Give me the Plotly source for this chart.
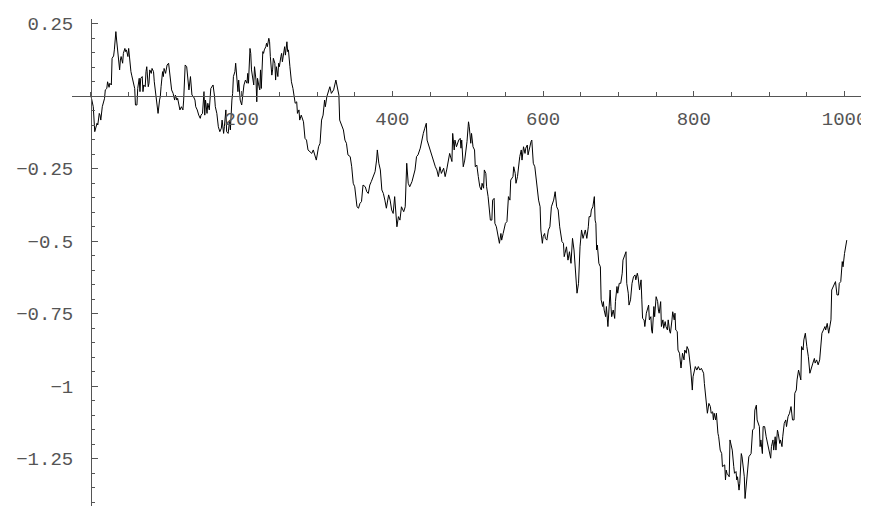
import plotly.graph_objects as go

# Random-walk samples: (step, value)
walk_a = [
    (0, 0.0), (2, -0.031), (3, -0.037), (5, -0.123), (8, -0.094), (9, -0.1), (11, -0.06), (12, -0.066),
    (13, -0.083), (15, -0.037), (16, -0.025), (18, -0.008), (19, 0.021), (21, 0.026), (22, 0.049),
    (24, 0.03), (25, 0.044), (27, 0.038), (28, 0.13), (30, 0.138), (31, 0.159), (33, 0.222), (34, 0.193),
    (35, 0.159), (36, 0.13), (38, 0.09), (39, 0.124), (40, 0.136), (42, 0.113), (43, 0.147), (45, 0.164),
    (46, 0.153), (47, 0.159), (49, 0.136), (50, 0.164), (51, 0.13), (53, 0.084), (54, 0.072), (56, 0.044),
    (58, 0.026), (59, -0.031), (61, -0.031), (62, 0.026), (64, 0.061), (65, 0.015), (66, 0.061),
    (68, 0.067), (69, 0.015), (70, 0.038), (72, 0.032), (73, 0.084), (74, 0.101), (76, 0.032), (77, 0.044),
    (78, 0.09), (80, 0.078), (81, 0.095), (83, 0.084), (84, 0.049), (85, 0.026), (87, -0.002), (88, -0.037),
    (89, -0.06), (91, -0.014), (92, -0.002), (93, 0.032), (95, 0.084), (96, 0.067), (97, 0.095), (99, 0.078),
    (100, 0.101), (101, 0.107), (103, 0.113), (105, 0.055), (107, 0.021), (109, 0.009), (111, -0.014),
    (112, 0.003), (114, -0.014), (115, -0.008), (116, -0.025), (118, -0.048), (120, -0.037), (122, -0.048),
    (123, -0.014), (125, 0.107), (127, 0.101), (129, 0.049), (130, 0.021), (132, 0.067), (134, 0.003),
    (136, -0.002), (138, -0.014), (139, -0.037), (141, -0.048), (143, -0.066), (145, -0.077), (146, -0.066),
    (148, -0.06), (150, 0.015), (151, -0.066), (152, -0.014), (154, -0.06), (155, -0.025), (157, -0.048),
    (159, 0.026), (161, 0.032), (162, 0.038), (164, -0.002), (165, -0.037), (167, -0.06), (169, -0.106),
    (171, -0.123), (173, -0.111), (174, -0.083), (176, -0.129), (177, -0.106), (179, -0.048), (180, -0.123),
    (182, -0.129), (184, -0.083), (185, -0.117), (187, -0.014), (188, 0.009), (189, 0.067), (191, 0.084),
    (192, 0.113), (193, 0.067), (195, 0.015), (196, 0.055), (198, -0.014), (200, -0.031), (201, -0.002),
    (202, 0.009), (203, 0.038), (205, 0.055), (207, 0.044), (208, 0.078), (209, 0.044), (211, 0.164),
    (212, 0.147), (213, 0.09), (215, 0.044), (216, 0.038), (217, 0.101), (219, 0.055), (220, -0.02),
    (221, 0.061), (223, 0.032), (224, 0.021), (225, 0.09), (226, 0.026), (228, 0.153), (229, 0.147),
    (230, 0.159), (232, 0.17), (233, 0.182), (234, 0.17), (236, 0.199), (237, 0.187), (238, 0.136),
    (240, 0.072), (241, 0.09), (242, 0.13), (244, 0.113), (245, 0.055), (246, 0.101), (248, 0.067),
    (249, 0.113), (250, 0.101), (252, 0.136), (253, 0.147), (254, 0.118), (256, 0.159), (257, 0.17),
    (258, 0.141), (260, 0.187), (261, 0.153), (262, 0.159), (264, 0.101), (265, 0.067), (266, 0.049),
    (268, 0.026), (269, 0.003),
]

walk_b = [
    (271, -0.025), (273, -0.02), (274, -0.06), (276, -0.048), (277, -0.083), (279, -0.066), (282, -0.089),
    (284, -0.146), (286, -0.152), (288, -0.186), (291, -0.192), (293, -0.198), (295, -0.186), (297, -0.209),
    (299, -0.221), (302, -0.175), (304, -0.163), (306, -0.083), (308, -0.066), (310, -0.014), (311, -0.037),
    (313, -0.002), (315, 0.015), (317, 0.032), (319, 0.009), (322, 0.021), (325, 0.055), (327, 0.021),
    (329, 0.003), (330, -0.083), (333, -0.1), (335, -0.117), (337, -0.152), (339, -0.163), (341, -0.203),
    (344, -0.209), (346, -0.244), (348, -0.301), (350, -0.313), (353, -0.382), (355, -0.387), (357, -0.37),
    (359, -0.364), (361, -0.307), (364, -0.313), (366, -0.33), (368, -0.336), (370, -0.307), (372, -0.295),
    (375, -0.278), (377, -0.261), (379, -0.221), (380, -0.186), (382, -0.232), (384, -0.255), (386, -0.324),
    (388, -0.336), (390, -0.359), (392, -0.387), (395, -0.341), (397, -0.359), (399, -0.393), (401, -0.405),
    (403, -0.347), (406, -0.451), (408, -0.416), (410, -0.428), (412, -0.382), (415, -0.399), (417, -0.382),
    (418, -0.324), (419, -0.232), (421, -0.301), (423, -0.313), (426, -0.295), (428, -0.272), (430, -0.255),
    (432, -0.209), (434, -0.203), (437, -0.18), (439, -0.152), (441, -0.129), (443, -0.111), (445, -0.094),
    (446, -0.152), (448, -0.169), (450, -0.186), (452, -0.209), (454, -0.221), (457, -0.244), (459, -0.255),
    (461, -0.278), (463, -0.244), (465, -0.267), (468, -0.249), (470, -0.278), (472, -0.255), (474, -0.232),
]

walk_c = [
    (476, -0.198), (479, -0.226), (480, -0.129), (482, -0.186), (483, -0.152), (485, -0.175), (488, -0.152),
    (490, -0.146), (491, -0.18), (492, -0.152), (494, -0.244), (496, -0.221), (499, -0.157), (501, -0.089),
    (502, -0.106), (504, -0.163), (505, -0.129), (507, -0.175), (509, -0.186), (510, -0.244), (512, -0.238),
    (514, -0.278), (516, -0.313), (518, -0.324), (519, -0.301), (521, -0.318), (522, -0.255), (524, -0.267),
    (525, -0.313), (527, -0.347), (530, -0.428), (532, -0.428), (533, -0.359), (535, -0.353), (536, -0.439),
    (538, -0.451), (541, -0.485), (542, -0.508), (544, -0.474), (545, -0.497), (547, -0.474), (550, -0.439),
    (552, -0.433), (554, -0.347), (556, -0.359), (557, -0.29), (560, -0.278), (561, -0.244), (563, -0.267),
    (564, -0.301), (566, -0.278), (567, -0.244), (569, -0.209), (571, -0.186), (572, -0.221), (574, -0.175),
    (576, -0.198), (577, -0.18), (579, -0.169), (580, -0.203), (582, -0.175), (584, -0.157), (585, -0.152),
    (587, -0.232), (589, -0.244), (592, -0.324), (594, -0.359), (596, -0.382), (597, -0.462), (599, -0.508),
    (600, -0.485), (602, -0.474), (603, -0.491), (605, -0.497), (607, -0.462), (609, -0.451), (611, -0.382),
    (614, -0.359), (616, -0.33), (618, -0.382), (620, -0.393), (622, -0.451),
]

walk_d = [
    (625, -0.502), (627, -0.508), (628, -0.554), (629, -0.543), (631, -0.52), (633, -0.566), (635, -0.537),
    (637, -0.577), (638, -0.52), (639, -0.491), (641, -0.531), (642, -0.566), (644, -0.646), (645, -0.68),
    (647, -0.646), (649, -0.52), (651, -0.462), (653, -0.491), (656, -0.462), (658, -0.491), (660, -0.451),
    (661, -0.416), (663, -0.416), (664, -0.393), (666, -0.382), (668, -0.347), (669, -0.428), (670, -0.439),
    (671, -0.531), (672, -0.514), (674, -0.577), (676, -0.589), (677, -0.703), (679, -0.726), (680, -0.709),
    (681, -0.738), (683, -0.761), (684, -0.726), (686, -0.795), (687, -0.749), (689, -0.669), (690, -0.726),
    (691, -0.761), (693, -0.738), (695, -0.767), (696, -0.709), (698, -0.657), (699, -0.68), (701, -0.646),
    (703, -0.646), (705, -0.611), (706, -0.566), (708, -0.554), (710, -0.537), (711, -0.646), (713, -0.68),
    (714, -0.721), (716, -0.703), (718, -0.646), (720, -0.623), (722, -0.617), (723, -0.634), (725, -0.611),
    (726, -0.623), (728, -0.669), (730, -0.634), (731, -0.703), (732, -0.767), (734, -0.772), (735, -0.795),
    (737, -0.749), (738, -0.738), (740, -0.721), (741, -0.772), (743, -0.761), (744, -0.807), (745, -0.818),
    (747, -0.726), (748, -0.761), (750, -0.692), (752, -0.709), (753, -0.738), (754, -0.749), (756, -0.709),
    (757, -0.795), (759, -0.772), (760, -0.801), (762, -0.778), (763, -0.795), (765, -0.807), (766, -0.772),
    (768, -0.812), (769, -0.818), (771, -0.772), (772, -0.744), (774, -0.772), (775, -0.749), (776, -0.807),
    (778, -0.812), (779, -0.876), (781, -0.887), (783, -0.938), (784, -0.91), (785, -0.887), (787, -0.91),
    (788, -0.876), (790, -0.887), (791, -0.864), (793, -0.876), (794, -0.899),
]

walk_e = [
    (796, -0.945), (798, -1.014), (799, -0.968), (802, -0.933), (804, -0.945), (806, -0.933), (808, -0.945),
    (810, -0.939), (813, -0.956), (814, -0.991), (816, -1.037), (817, -1.048), (818, -1.094), (820, -1.06),
    (822, -1.071), (823, -1.094), (825, -1.089), (826, -1.117), (827, -1.094), (829, -1.117), (830, -1.094),
    (832, -1.163), (833, -1.175), (835, -1.221), (837, -1.233), (838, -1.278), (841, -1.272), (842, -1.324),
    (843, -1.29), (844, -1.301), (845, -1.307), (847, -1.313), (848, -1.186), (849, -1.198), (851, -1.221),
    (853, -1.278), (854, -1.301), (856, -1.295), (857, -1.324), (858, -1.313), (860, -1.359), (861, -1.336),
    (863, -1.233), (864, -1.244), (866, -1.301), (867, -1.313), (868, -1.388), (870, -1.324), (872, -1.278),
    (873, -1.244), (876, -1.233), (877, -1.198), (878, -1.152), (880, -1.146), (881, -1.083), (883, -1.066),
    (884, -1.117), (887, -1.14), (888, -1.209), (889, -1.186), (891, -1.233), (892, -1.14), (894, -1.14),
    (896, -1.175), (898, -1.203), (899, -1.209), (900, -1.226), (902, -1.249), (903, -1.209), (905, -1.186),
    (906, -1.221), (908, -1.175), (909, -1.221), (911, -1.152), (912, -1.163), (914, -1.198), (915, -1.186),
    (917, -1.209), (918, -1.175), (920, -1.129), (922, -1.117), (923, -1.14), (925, -1.106), (927, -1.094),
    (929, -1.071), (930, -1.117), (931, -1.117), (933, -1.117), (934, -1.025), (936, -1.014), (937, -0.979),
    (939, -0.945), (940, -0.956), (942, -0.979), (943, -0.864), (945, -0.876), (946, -0.841), (948, -0.818),
    (950, -0.864), (952, -0.899), (954, -0.956), (956, -0.933), (958, -0.921), (960, -0.905), (961, -0.921),
    (963, -0.91), (965, -0.927), (967, -0.91), (968, -0.887), (970, -0.818), (972, -0.807), (974, -0.795),
    (975, -0.807), (977, -0.784), (979, -0.818), (981, -0.772), (982, -0.772), (983, -0.669), (986, -0.652),
    (988, -0.64), (990, -0.686), (992, -0.686), (993, -0.646), (995, -0.64), (997, -0.571), (998, -0.589),
    (1000, -0.543), (1001, -0.531), (1003, -0.497),
]

x_tick_values = [200, 400, 600, 800, 1000]
x_tick_labels = ["200", "400", "600", "800", "1000"]
y_tick_values = [0.25, -0.25, -0.5, -0.75, -1.0, -1.25]
y_tick_labels = ["0.25", "\u22120.25", "\u22120.5", "\u22120.75", "\u22121", "\u22121.25"]

points = walk_a + walk_b + walk_c + walk_d + walk_e
steps = [p[0] for p in points]
values = [p[1] for p in points]

x_range = [-25.2, 1028.5]
y_range = [-1.4138, 0.2655]
x_cross = (0 - x_range[0]) / (x_range[1] - x_range[0])
y_cross = (0 - y_range[0]) / (y_range[1] - y_range[0])

tick_font = dict(family="Liberation Mono", size=19, color="#555555")

fig = go.Figure()
fig.add_trace(go.Scatter(
    x=steps, y=values, mode="lines",
    line=dict(color="black", width=1),
    hoverinfo="skip", showlegend=False,
))

# the page body has an 8px default margin, so the figure is 8px smaller
fig.update_layout(
    width=861, height=498,
    margin=dict(l=64, r=3, t=11, b=0),
    paper_bgcolor="white", plot_bgcolor="white",
    showlegend=False,
    xaxis=dict(
        range=x_range, anchor="free", position=y_cross, side="bottom",
        automargin=False,
        showgrid=False, zeroline=False,
        showline=True, linecolor="#555555", linewidth=1,
        tickmode="array", tickvals=x_tick_values, ticktext=x_tick_labels,
        ticks="inside", ticklen=5, tickwidth=1, tickcolor="#555555",
        minor=dict(dtick=50, tick0=0, ticks="inside", ticklen=4, tickwidth=1,
                   tickcolor="#555555", showgrid=False),
        tickfont=tick_font, ticklabelstandoff=5,
    ),
    yaxis=dict(
        range=y_range, anchor="free", position=x_cross, side="left",
        automargin=False,
        showgrid=False, zeroline=False,
        showline=True, linecolor="#555555", linewidth=1,
        tickmode="array", tickvals=y_tick_values, ticktext=y_tick_labels,
        ticks="inside", ticklen=6, tickwidth=1, tickcolor="#555555",
        minor=dict(dtick=0.05, tick0=0, ticks="inside", ticklen=3.5, tickwidth=1,
                   tickcolor="#555555", showgrid=False),
        tickfont=tick_font, ticklabelstandoff=14,
    ),
)

fig.write_html("out.html")
